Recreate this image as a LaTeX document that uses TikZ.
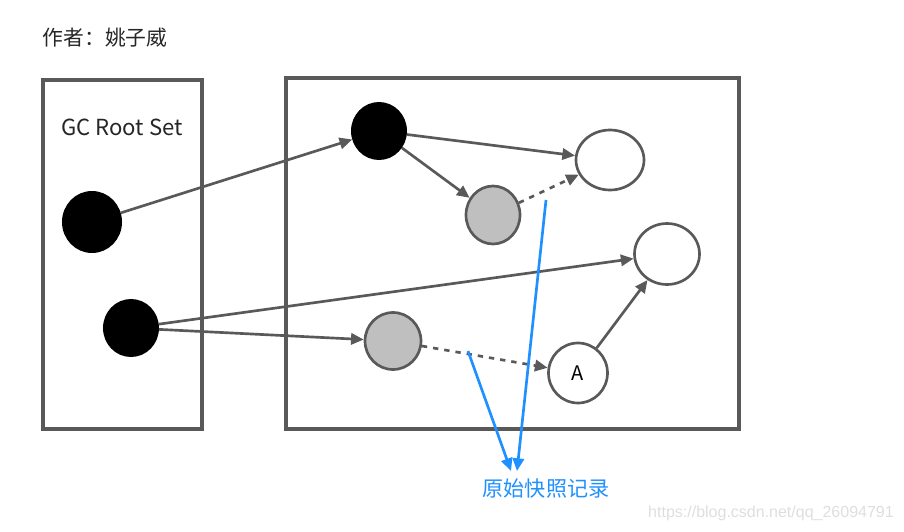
\documentclass[tikz,border=0pt]{standalone}
\usepackage{fontspec}
\setmainfont{Noto Sans CJK SC}
\newfontfamily\wmfont{Liberation Sans}
\usetikzlibrary{arrows.meta,shapes.geometric}
\definecolor{ln}{HTML}{595959}
\definecolor{gr}{HTML}{BFBFBF}
\definecolor{bl}{HTML}{1E90FF}
\begin{document}
\begin{tikzpicture}[x=0.75pt,y=-0.75pt,
  box/.style={draw=ln,line width=2.3pt},
  sz/.style 2 args={ellipse,inner sep=0pt,minimum width=#1*0.75pt,minimum height=#2*0.75pt},
  blk/.style={draw=black,fill=black,line width=1.5pt},
  gry/.style={draw=ln,fill=gr,line width=2pt},
  wht/.style={draw=ln,fill=white,line width=2pt},
  arr/.style={draw=ln,line width=2pt,-{Triangle[length=9.5pt,width=8.5pt]}},
  darr/.style={arr,dash pattern=on 4pt off 4.5pt},
  barr/.style={draw=bl,line width=2pt,-{Triangle[length=9.5pt,width=8.5pt]}}]
\useasboundingbox (0,0) rectangle (904,532);
\node[anchor=west,font=\fontsize{15.6}{18}\selectfont,text=black!85] (title) at (38,38) {作者：姚子威};
\draw[box] (43,80) rectangle (202,429);
\draw[box] (286,78) rectangle (739,429);
\node[font=\fontsize{16.6}{18}\selectfont,text=black!85] (gcr) at (122,127) {GC Root Set};
% nodes
\node[blk,sz={58}{60}] (b1) at (92,222) {};
\node[blk,sz={54}{56}] (b2) at (131,328) {};
\node[blk,sz={54}{56}] (b3) at (379,131) {};
\node[gry,sz={54}{58}] (g1) at (493,215) {};
\node[gry,sz={56}{57}] (g2) at (393,341) {};
\node[wht,sz={68}{60}] (w1) at (610,160) {};
\node[wht,sz={65}{61}] (w2) at (667,254) {};
\node[wht,sz={59}{60},font=\fontsize{15}{17}\selectfont] (a) at (578,373) {A};
% connectors
\draw[arr] (b1) -- (b3);
\draw[arr] (b3) -- (w1);
\draw[arr] (b3) -- (g1);
\draw[darr] (g1) -- (w1);
\draw[arr] (b2) -- (w2);
\draw[arr] (b2) -- (g2);
\draw[darr] (g2) -- (a);
\draw[arr] (a) -- (w2);
% snapshot record
\node[font=\fontsize{15.8}{18}\selectfont,text=bl] (rec) at (546,489) {原始快照记录};
\coordinate (s1) at (546,200);
\coordinate (s2) at (468,351);
\coordinate (t1) at (517,471);
\coordinate (t2) at (511,471);
\draw[barr] (s1) -- (t1);
\draw[barr] (s2) -- (t2);
\node[font=\wmfont\fontsize{12}{14}\selectfont,text=black!13] (wm) at (771,513) {https://blog.csdn.net/qq\_26094791};
\end{tikzpicture}
\end{document}
